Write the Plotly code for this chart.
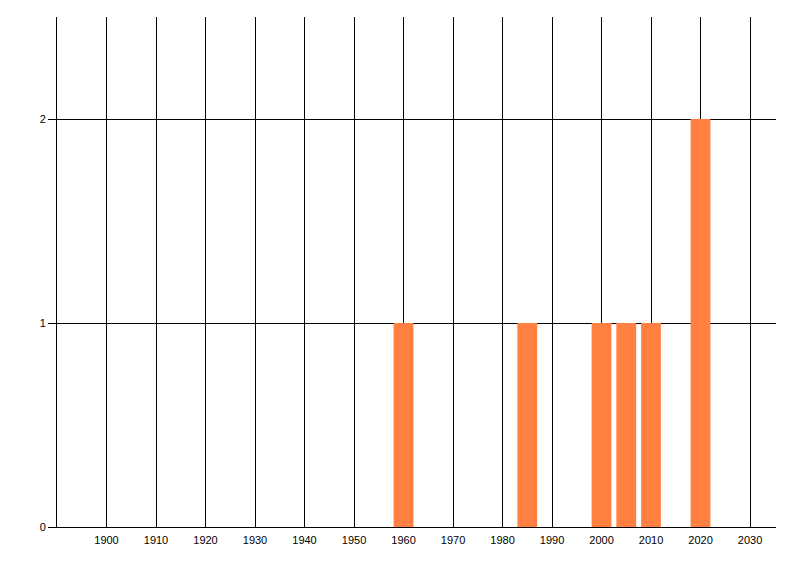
import plotly.graph_objects as go

years = [1960, 1985, 2000, 2005, 2010, 2020]
counts = [1, 1, 1, 1, 1, 2]
x_ticks = list(range(1900, 2031, 10))
y_ticks = [0, 1, 2]

fig = go.Figure()
fig.add_trace(go.Bar(
    x=years, y=counts, width=4,
    marker=dict(color="#FF8040", line=dict(width=0)),
))

fig.update_layout(
    width=792, height=568,
    margin=dict(l=49, r=24, t=9, b=49),
    plot_bgcolor="white", paper_bgcolor="white",
    showlegend=False,
    font=dict(family="Liberation Sans, Arial, sans-serif", size=11, color="black"),
)
fig.update_xaxes(
    range=[1890, 2035.25],
    tickvals=x_ticks, ticktext=[str(v) for v in x_ticks],
    showgrid=True, gridcolor="black", gridwidth=1,
    showline=True, linecolor="black", linewidth=1,
    ticks="outside", ticklen=3, tickcolor="rgba(0,0,0,0)", zeroline=False,
    layer="below traces",
)
fig.update_yaxes(
    range=[0, 2.5],
    tickvals=y_ticks, ticktext=[str(v) for v in y_ticks],
    showgrid=True, gridcolor="black", gridwidth=1,
    showline=True, linecolor="black", linewidth=1,
    ticks="outside", ticklen=8, tickcolor="black", tickwidth=1,
    zeroline=False,
    layer="below traces",
)

fig.write_html("out.html")
